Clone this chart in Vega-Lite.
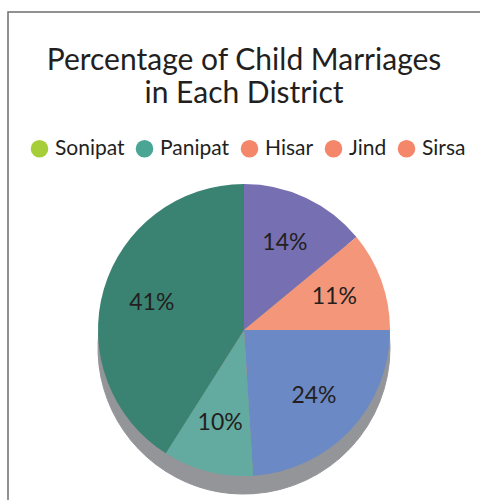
{
  "$schema": "https://vega.github.io/schema/vega-lite/v6.json",
  "width": 472,
  "height": 488,
  "autosize": "none",
  "padding": {"left": 8, "top": 12, "right": 0, "bottom": 0},
  "background": "white",
  "view": {"stroke": "#6d6e71", "strokeWidth": 1.5, "strokeDash": [472, 960, 488, 10]},
  "config": {
    "font": "Lato"
  },
  "title": {
    "text": ["Percentage of Child Marriages", "in Each District"],
    "fontSize": 30,
    "font": "Lato",
    "fontWeight": "normal",
    "color": "#231f20",
    "anchor": "middle",
    "lineHeight": 33,
    "baseline": "alphabetic",
    "offset": -121
  },
  "data": {
    "values": [
      {"district": "Sonipat", "percent": 14, "label": "14%", "slice": 1},
      {"district": "Panipat", "percent": 11, "label": "11%", "slice": 2},
      {"district": "Hisar", "percent": 24, "label": "24%", "slice": 3},
      {"district": "Jind", "percent": 10, "label": "10%", "slice": 4},
      {"district": "Sirsa", "percent": 41, "label": "41%", "slice": 5}
    ]
  },
  "layer": [
    {
      "mark": {"type": "arc", "radius": 146, "yOffset": 92, "color": "#939598", "stroke": "#939598", "strokeWidth": 1},
      "encoding": {
        "theta": {"field": "percent", "type": "quantitative", "stack": true},
        "order": {"field": "slice", "type": "quantitative"}
      }
    },
    {
      "mark": {"type": "arc", "radius": 50, "yOffset": 74},
      "encoding": {
        "theta": {"field": "percent", "type": "quantitative", "stack": true},
        "order": {"field": "slice", "type": "quantitative"},
        "color": {
          "field": "district",
          "type": "nominal",
          "scale": {
            "domain": ["Sonipat", "Panipat", "Hisar", "Jind", "Sirsa"],
            "range": ["#a6ce39", "#4aa594", "#f4866a", "#f4866a", "#f4866a"]
          },
          "legend": {
            "title": null,
            "orient": "none",
            "direction": "horizontal",
            "legendX": 21,
            "legendY": 126,
            "padding": 0,
            "labelFontSize": 21,
            "labelFont": "Lato",
            "labelColor": "#231f20",
            "symbolSize": 310,
            "symbolType": "circle",
            "symbolStrokeWidth": 0,
            "columnPadding": 9,
            "labelOffset": 5
          }
        }
      }
    },
    {
      "mark": {"type": "arc", "radius": 146, "yOffset": 74},
      "encoding": {
        "theta": {"field": "percent", "type": "quantitative", "stack": true},
        "order": {"field": "slice", "type": "quantitative"},
        "color": {
          "field": "district",
          "type": "nominal",
          "scale": {
            "domain": ["Sonipat", "Panipat", "Hisar", "Jind", "Sirsa"],
            "range": ["#7670b3", "#f4967a", "#6b89c5", "#63aaa0", "#3a8373"]
          },
          "legend": null
        }
      }
    },
    {
      "mark": {"type": "text", "radius": 96, "yOffset": 74, "fontSize": 23, "font": "Lato", "color": "#231f20"},
      "encoding": {
        "theta": {"field": "percent", "type": "quantitative", "stack": true},
        "order": {"field": "slice", "type": "quantitative"},
        "text": {"field": "label", "type": "nominal"}
      }
    }
  ],
  "resolve": {"scale": {"color": "independent"}, "legend": {"color": "independent"}}
}
